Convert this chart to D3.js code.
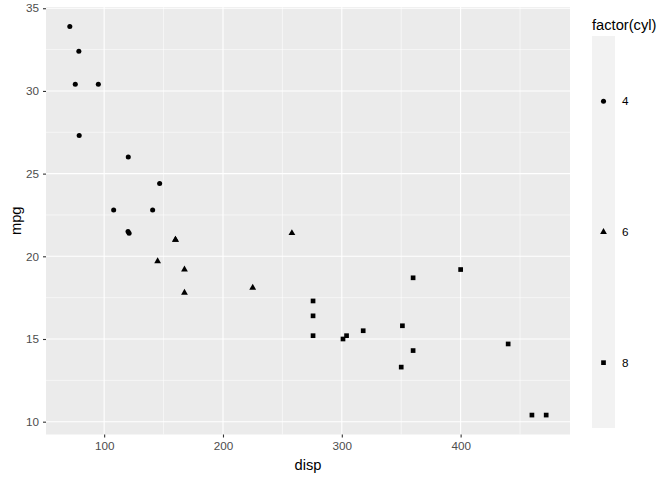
<!DOCTYPE html>
<html><head><meta charset="utf-8">
<script src="https://d3js.org/d3.v7.min.js"></script>
<style>body{margin:0;background:#fff}svg{display:block;font-family:"Liberation Sans",Arial,sans-serif}</style>
</head><body><svg id="c" width="672" height="480"></svg>
<script>
const disp = [160,160,108,258,360,225,360,146.7,140.8,167.6,167.6,275.8,275.8,275.8,472,460,440,78.7,75.7,71.1,120.1,318,304,350,400,79,120.3,95.1,351,145,301,121];
const mpg = [21.0,21.0,22.8,21.4,18.7,18.1,14.3,24.4,22.8,19.2,17.8,16.4,17.3,15.2,10.4,10.4,14.7,32.4,30.4,33.9,21.5,15.5,15.2,13.3,19.2,27.3,26.0,30.4,15.8,19.7,15.0,21.4];
const cyl = [6,6,4,6,8,6,8,4,4,6,6,8,8,8,8,8,8,4,4,4,4,8,8,8,8,4,4,4,8,6,8,4];
const cylLevels = ["4","6","8"];
const xTicks = [100,200,300,400];
const yTicks = [10,15,20,25,30,35];

const svg = d3.select("#c");
const L=46,R=570,T=7,B=434.5;
const xs = d3.scaleLinear().domain([51.055,492.045]).range([L,R]);
const ys = d3.scaleLinear().domain([9.225,35.075]).range([B,T]);
svg.append("rect").attr("x",L).attr("y",T).attr("width",R-L).attr("height",B-T).attr("fill","#ebebeb");
const g = svg.append("g");
// minor grid
const xMinor = xTicks.slice(0,-1).map((d,i)=>(d+xTicks[i+1])/2).concat([50,450]).filter(d=>d>=51.055&&d<=492.045);
const yMinor = yTicks.slice(0,-1).map((d,i)=>(d+yTicks[i+1])/2);
xMinor.forEach(v=>g.append("line").attr("x1",xs(v)).attr("x2",xs(v)).attr("y1",T).attr("y2",B).attr("stroke","#fff").attr("stroke-width",0.55));
yMinor.forEach(v=>g.append("line").attr("y1",ys(v)).attr("y2",ys(v)).attr("x1",L).attr("x2",R).attr("stroke","#fff").attr("stroke-width",0.55));
xTicks.forEach(v=>g.append("line").attr("x1",xs(v)).attr("x2",xs(v)).attr("y1",T).attr("y2",B).attr("stroke","#fff").attr("stroke-width",1.1));
yTicks.forEach(v=>g.append("line").attr("y1",ys(v)).attr("y2",ys(v)).attr("x1",L).attr("x2",R).attr("stroke","#fff").attr("stroke-width",1.1));

const xAxis = d3.axisBottom(xs).tickValues(xTicks).tickSize(3).tickPadding(4);
const yAxis = d3.axisLeft(ys).tickValues(yTicks).tickSize(3).tickPadding(4);
const ax = svg.append("g").attr("transform",`translate(0,${B})`).call(xAxis);
const ay = svg.append("g").attr("transform",`translate(${L},0)`).call(yAxis);
[ax,ay].forEach(a=>{a.select(".domain").remove();a.selectAll(".tick line").attr("stroke","#333").attr("stroke-width",1.1);
  a.selectAll("text").attr("fill","#4d4d4d").style("font-size","11.7px").style("font-family","'Liberation Sans',Arial,sans-serif");});

const shapeOf = {"4":d3.symbolCircle,"6":d3.symbolTriangle,"8":d3.symbolSquare};
const sizeOf = {"4":20,"6":20,"8":22};
svg.append("g").selectAll("path").data(disp.map((d,i)=>({x:d,y:mpg[i],c:String(cyl[i])}))).join("path")
  .attr("transform",d=>`translate(${xs(d.x)},${ys(d.y)})`)
  .attr("d",d=>d3.symbol(shapeOf[d.c],sizeOf[d.c])())
  .attr("fill","#000");

svg.append("text").attr("x",(L+R)/2).attr("y",470).attr("text-anchor","middle").style("font-size","14.7px").text("disp");
svg.append("text").attr("transform",`translate(21,${(T+B)/2}) rotate(-90)`).attr("text-anchor","middle").style("font-size","14.7px").text("mpg");

// legend
svg.append("text").attr("x",592).attr("y",30).style("font-size","14.7px").text("factor(cyl)");
const ly = d3.scaleBand().domain(cylLevels).range([36,428]);
svg.append("rect").attr("x",592).attr("y",36).attr("width",23).attr("height",392).attr("fill","#f2f2f2");
const lg = svg.append("g").selectAll("g").data(cylLevels).join("g")
  .attr("transform",d=>`translate(603.5,${ly(d)+ly.bandwidth()/2})`);
lg.append("path").attr("d",d=>d3.symbol(shapeOf[d],sizeOf[d])()).attr("fill","#000");
lg.append("text").attr("x",18.5).attr("y",4).style("font-size","11.7px").attr("fill","#000").text(d=>d);
</script></body></html>
